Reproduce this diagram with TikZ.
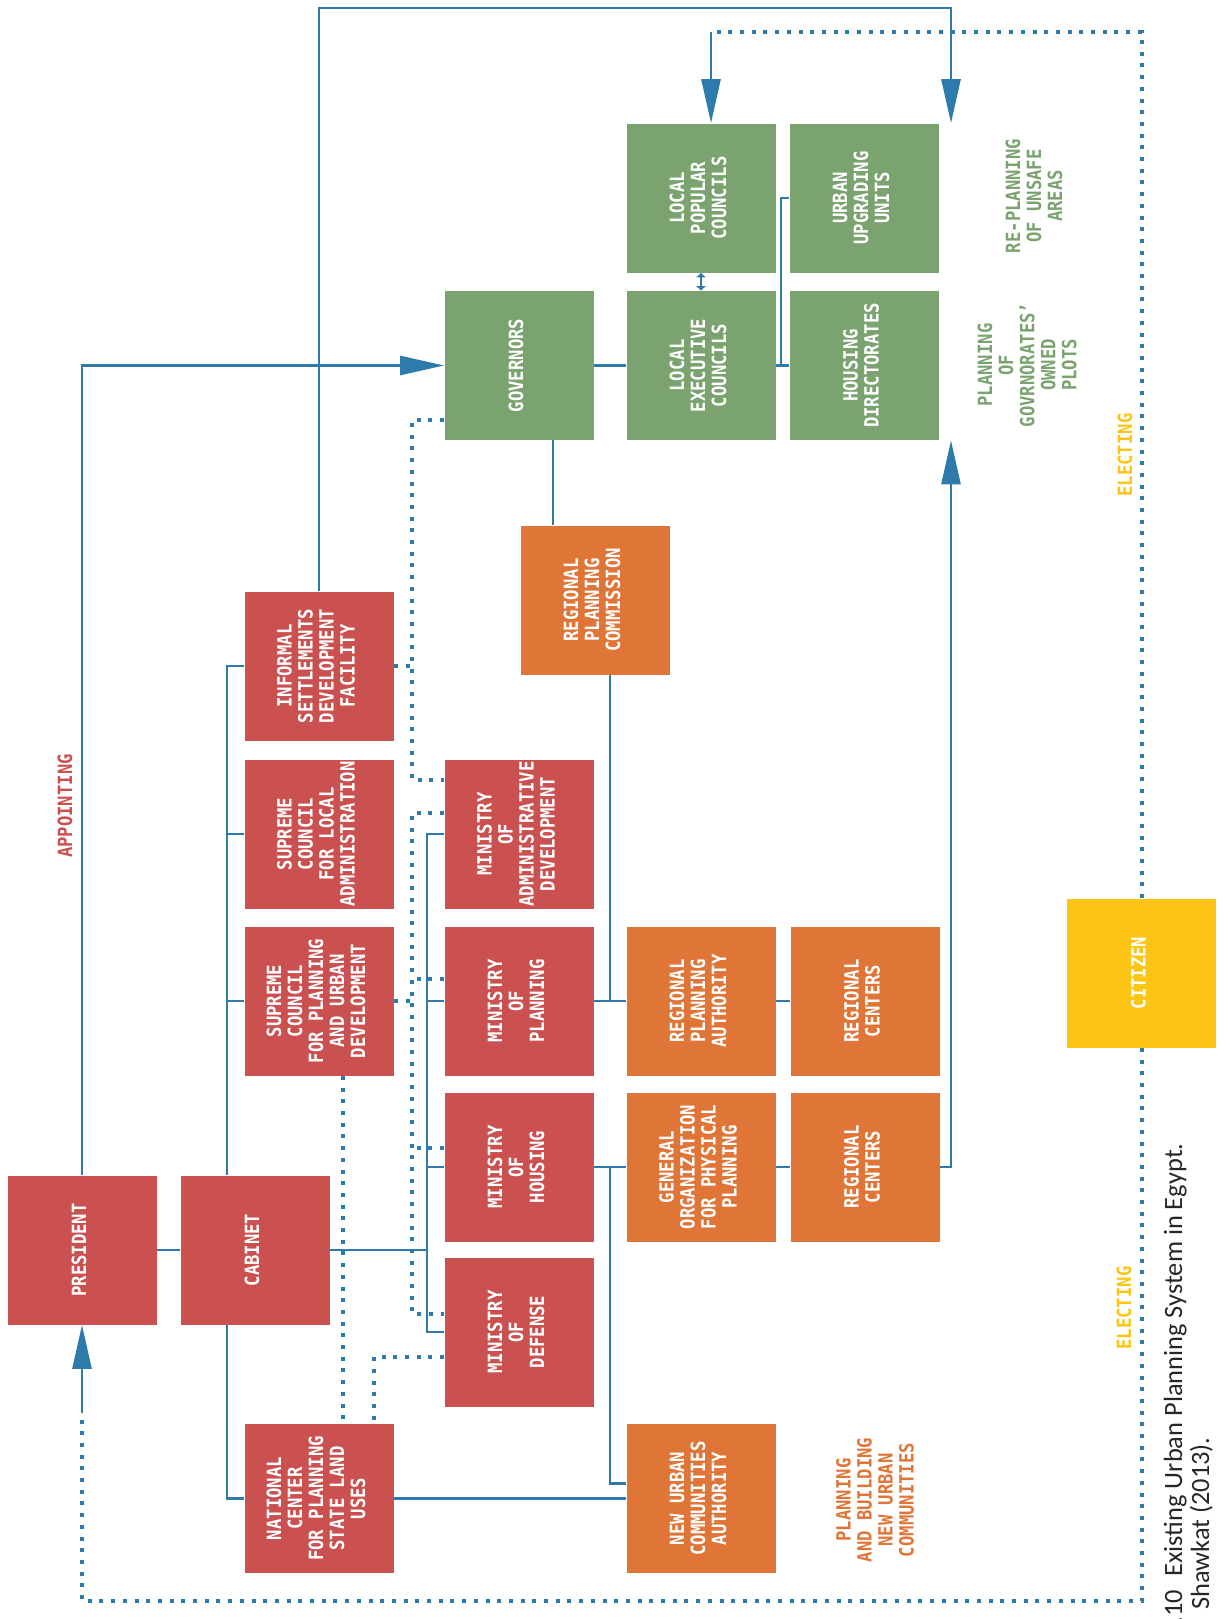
\documentclass[tikz,border=0pt]{standalone}
\usepackage{fontspec}
\usetikzlibrary{arrows.meta}
\usetikzlibrary{calc}
\newfontfamily\orgmono{DejaVu Sans Mono}[FakeStretch=0.88]
\newfontfamily\capsans{Carlito}
\definecolor{cred}{RGB}{203,81,80}
\definecolor{cgreen}{RGB}{123,163,112}
\definecolor{corange}{RGB}{224,117,56}
\definecolor{cyellow}{RGB}{252,197,21}
\definecolor{cblue}{RGB}{46,123,171}
\newcommand\orgfont{\orgmono\bfseries\fontsize{9.8pt}{10.5pt}\selectfont}
\newcommand\capfont{\capsans\fontsize{13.2pt}{16pt}\selectfont}
\newcommand\vtext[1]{\rotatebox{90}{\begin{tabular}{@{}c@{}}#1\end{tabular}}}

\begin{document}
\begin{tikzpicture}[x=0.5pt, y=-0.5pt,
    orgbox/.style={minimum width=74.5pt, minimum height=74.5pt, inner sep=0pt, text=white, font=\orgfont},
    redbox/.style={orgbox, fill=cred},
    greenbox/.style={orgbox, fill=cgreen},
    orangebox/.style={orgbox, fill=corange},
    yellowbox/.style={orgbox, fill=cyellow},
    note/.style={inner sep=0pt, font=\orgfont},
    caption/.style={rotate=90, anchor=base east, inner sep=0pt, font=\capfont, text=black!85},
    link/.style={draw=cblue, line width=1.35pt},
    dots/.style={draw=cblue, line width=2pt, dash pattern=on 2pt off 3.85pt},
    bigarrow/.style={-{Triangle[width=9.5pt,length=22pt]}}]
    \useasboundingbox (0,0) rectangle (1223,1619);

    % national level
    \node [redbox] (president) at (82,1250) {\vtext{PRESIDENT}};
    \node [redbox] (cabinet) at (255,1250) {\vtext{CABINET}};
    \node [redbox] (informal) at (319,666) {\vtext{INFORMAL\\SETTLEMENTS\\DEVELOPMENT\\FACILITY}};
    \node [redbox] (sclocal) at (319,834) {\vtext{SUPREME\\COUNCIL\\FOR LOCAL\\ADMINISTRATION}};
    \node [redbox] (scplan) at (319,1001) {\vtext{SUPREME\\COUNCIL\\FOR PLANNING\\AND URBAN\\DEVELOPMENT}};
    \node [redbox] (natcenter) at (319,1498.5) {\vtext{NATIONAL\\CENTER\\FOR PLANNING\\STATE LAND\\USES}};
    \node [redbox] (minadmin) at (519,834) {\vtext{MINISTRY\\OF\\ADMINISTRATIVE\\DEVELOPMENT}};
    \node [redbox] (minplan) at (519,1001) {\vtext{MINISTRY\\OF\\PLANNING}};
    \node [redbox] (minhouse) at (519,1167) {\vtext{MINISTRY\\OF\\HOUSING}};
    \node [redbox] (mindef) at (519,1332) {\vtext{MINISTRY\\OF\\DEFENSE}};

    % regional level
    \node [orangebox] (regcomm) at (595,600) {\vtext{REGIONAL\\PLANNING\\COMMISSION}};
    \node [orangebox] (regauth) at (701,1001) {\vtext{REGIONAL\\PLANNING\\AUTHORITY}};
    \node [orangebox] (genorg) at (701,1167) {\vtext{GENERAL\\ORGANIZATION\\FOR PHYSICAL\\PLANNING}};
    \node [orangebox] (nuca) at (701,1498.5) {\vtext{NEW URBAN\\COMMUNITIES\\AUTHORITY}};
    \node [orangebox] (regcent1) at (865,1001) {\vtext{REGIONAL\\CENTERS}};
    \node [orangebox] (regcent2) at (865,1167) {\vtext{REGIONAL\\CENTERS}};

    % local level
    \node [greenbox] (governors) at (519,365.5) {\vtext{GOVERNORS}};
    \node [greenbox] (lpc) at (701,198) {\vtext{LOCAL\\POPULAR\\COUNCILS}};
    \node [greenbox] (lec) at (701,365.5) {\vtext{LOCAL\\EXECUTIVE\\COUNCILS}};
    \node [greenbox] (upgrade) at (864,198) {\vtext{URBAN\\UPGRADING\\UNITS}};
    \node [greenbox] (housedir) at (864,365.5) {\vtext{HOUSING\\DIRECTORATES}};

    \node [yellowbox] (citizen) at (1141.5,973) {\vtext{CITIZEN}};

    % side notes
    \node [note, text=cred] (appointing) at (68,806) {\vtext{APPOINTING}};
    \node [note, text=cgreen] (replan) at (1037,196) {\vtext{RE-PLANNING\\OF UNSAFE\\AREAS}};
    \node [note, text=cgreen] (plots) at (1030,365) {\vtext{PLANNING\\OF\\GOVRNORATES’\\OWNED\\PLOTS}};
    \node [note, text=cyellow] (elect1) at (1128,455) {\vtext{ELECTING}};
    \node [note, text=cyellow] (elect2) at (1127,1308) {\vtext{ELECTING}};
    \node [note, text=corange] (newcomm) at (878,1500) {\vtext{PLANNING\\AND BUILDING\\NEW URBAN\\COMMUNITIES}};

    \node [caption] (cap1) at (1182,1143) {.10\enspace Existing Urban Planning System in Egypt.};
    \node [caption] (cap2) at (1209,1437) {Shawkat (2013).};

    \coordinate (cabbus) at (227,0);
    \coordinate (minbus) at (427,0);
    \coordinate (dotbus) at (412,0);
    \coordinate (govdrop) at (553,0);
    \coordinate (rpcbus) at (610,0);
    \coordinate (locbus) at (781,0);
    \coordinate (rightbus) at (951,0);
    \coordinate (lpcarrow) at (711,0);
    \coordinate (topline) at (0,8);
    \coordinate (dottop) at (0,32);
    \coordinate (dotbottom) at (0,1601);

    % solid links
    \draw [link, bigarrow] (president.north) |- (governors.west);
    \draw [link] (president) -- (cabinet);
    \draw [link] (informal.west) -| (cabbus |- cabinet.north);
    \draw [link] (sclocal.west) -- (cabbus |- sclocal.west);
    \draw [link] (scplan.west) -- (cabbus |- scplan.west);
    \draw [link] (cabbus |- cabinet.south) |- (natcenter.west);
    \draw [link] (minadmin.west) -| (minbus |- mindef.west) -- (mindef.west);
    \draw [link] (minplan.west) -- (minbus |- minplan.west);
    \draw [link] (minhouse.west) -- (minbus |- minhouse.west);
    \draw [link] (cabinet.east) -- (minbus |- cabinet.east);
    \draw [link, bigarrow] (informal.north) |- (topline -| rightbus) -- (rightbus |- upgrade.north);
    \draw [link] (governors) -- (lec);
    \draw [link] (govdrop |- governors.south) -- (govdrop |- regcomm.north);
    \draw [link, {Triangle[width=4.5pt,length=2.2pt]}-{Triangle[width=4.5pt,length=2.2pt]}] (lpc.south) -- (lec.north);
    \draw [link] (lec.east) -- (housedir.west);
    \draw [link] (upgrade.west) -| (locbus |- housedir.west);
    \draw [link] (rpcbus |- regcomm.south) -- (rpcbus |- regauth.west);
    \draw [link] (minplan) -- (regauth);
    \draw [link] (minhouse) -- (genorg);
    \draw [link] (rpcbus |- genorg.west) |- ($(nuca.west)+(0,-15)$);
    \draw [link] (regauth) -- (regcent1);
    \draw [link] (genorg) -- (regcent2);
    \draw [link, bigarrow] (regcent2.east) -| (rightbus |- housedir.south);
    \draw [link] (natcenter) -- (nuca);

    % dotted links
    \draw [dots] ($(governors.west)+(0,54.5)$) -| ($(dotbus |- minadmin.west)+(0,-54)$) -- ($(minadmin.west)+(0,-54)$);
    \draw [dots] (informal.east) -- (dotbus |- informal.east);
    \draw [dots] ($(minadmin.west)+(0,-21)$) -| ($(dotbus |- mindef.west)+(0,-18)$) -- ($(mindef.west)+(0,-18)$);
    \draw [dots] ($(minplan.west)+(0,-22)$) -- +(-32,0);
    \draw [dots] ($(minhouse.west)+(0,-19)$) -- +(-32,0);
    \draw [dots] (scplan.east) -- (dotbus |- scplan.east);
    \draw [dots] ($(scplan.south)+(24,0)$) -- ($(natcenter.north)+(24,0)$);
    \draw [dots] ($(mindef.west)+(0,25)$) -| ($(natcenter.north)+(55,0)$);
    \draw [dots] (citizen.south) |- (dotbottom -| president.south) -- ($(president.south)+(0,88)$);
    \draw [link, bigarrow] ($(president.south)+(0,88)$) -- (president.south);
    \draw [dots] (citizen.north) |- (dottop -| lpcarrow);
    \draw [link, bigarrow] (dottop -| lpcarrow) -- (lpcarrow |- lpc.north);
\end{tikzpicture}
\end{document}
